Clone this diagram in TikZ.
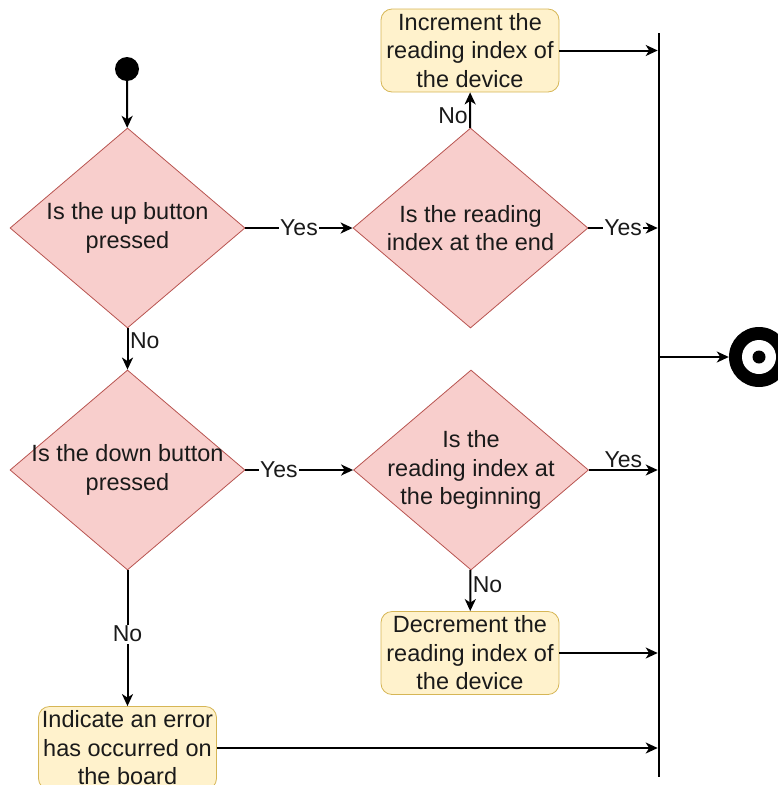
\documentclass[tikz,border=0pt]{standalone}
\usepackage{fontspec}
\setmainfont{Liberation Sans}
\usetikzlibrary{shapes.geometric,arrows.meta}
\definecolor{decfill}{HTML}{F8CECC}
\definecolor{decline}{HTML}{B85450}
\definecolor{actfill}{HTML}{FFF2CC}
\definecolor{actline}{HTML}{D6B656}
\definecolor{ink}{HTML}{1A1A1A}
\begin{document}
\begin{tikzpicture}[x=1pt,y=-1pt,
  txt/.style={font=\fontsize{23.5}{28.5}\selectfont, text=ink, align=center},
  decision/.style={diamond, draw=decline, fill=decfill, line width=0.8pt, inner sep=-40pt,
    minimum width=235pt, minimum height=200pt, aspect=1.175, txt},
  action/.style={rectangle, rounded corners=11pt, draw=actline, fill=actfill, line width=0.8pt,
    inner sep=0pt, minimum width=178pt, minimum height=83pt, txt},
  flow/.style={line width=2pt, -{Stealth[length=12pt,width=11pt,inset=3.5pt]}},
  lbl/.style={font=\fontsize{23}{27}\selectfont, text=ink, inner sep=1.5pt},
  lblw/.style={lbl, fill=white},
]
\useasboundingbox (0,0) rectangle (778,785);
\clip (0,0) rectangle (778,785);

% nodes
\node[circle, fill=black, minimum size=24pt, inner sep=0pt] (start) at (127,69) {};
\node[decision] (up) at (127.5,228) {Is the up button\\pressed};
\node[decision] (endq) at (470.5,228) {Is the reading\\index at the end};
\node[action] (inc) at (470,50.5) {Increment the\\reading index of\\the device};
\node[decision] (down) at (127.5,470) {Is the down button\\pressed};
\node[decision] (beg) at (471,470) {Is the\\reading index at\\the beginning};
\node[action] (dec) at (470,653) {Decrement the\\reading index of\\the device};
\node[action] (err) at (127.5,748) {Indicate an error\\has occurred on\\the board};
\node[rectangle, fill=black, minimum width=2.2pt, minimum height=744pt, inner sep=0pt] (bar) at (659,405) {};
\node[circle, fill=black, minimum size=60pt, inner sep=0pt] (fin) at (759,357) {};
\fill[white] (fin.center) circle (17);
\fill[black] (fin.center) circle (6.5);

% connectors
\draw[flow] (start) -- (up);
\draw[flow] (up) -- node[lblw]{Yes} (endq);
\draw[flow] (endq) -- node[lblw]{Yes} (endq.east -| bar.west);
\draw[flow] (endq) -- node[lbl, left, pos=0.35]{No} (inc);
\draw[flow] (inc) -- (inc.east -| bar.west);
\draw[flow] (up) -- node[lbl, right, pos=0.3]{No} (down);
\draw[flow] (down) -- node[lblw, pos=0.31]{Yes} (beg);
\draw[flow] (beg) -- node[lbl, above]{Yes} (beg.east -| bar.west);
\draw[flow] (beg) -- node[lbl, right, pos=0.36]{No} (dec);
\draw[flow] (dec) -- (dec.east -| bar.west);
\draw[flow] (down) -- node[lblw, pos=0.47]{No} (err);
\draw[flow] (err) -- (err.east -| bar.west);
\draw[flow] (bar.east |- fin) -- (fin);
\end{tikzpicture}
\end{document}
